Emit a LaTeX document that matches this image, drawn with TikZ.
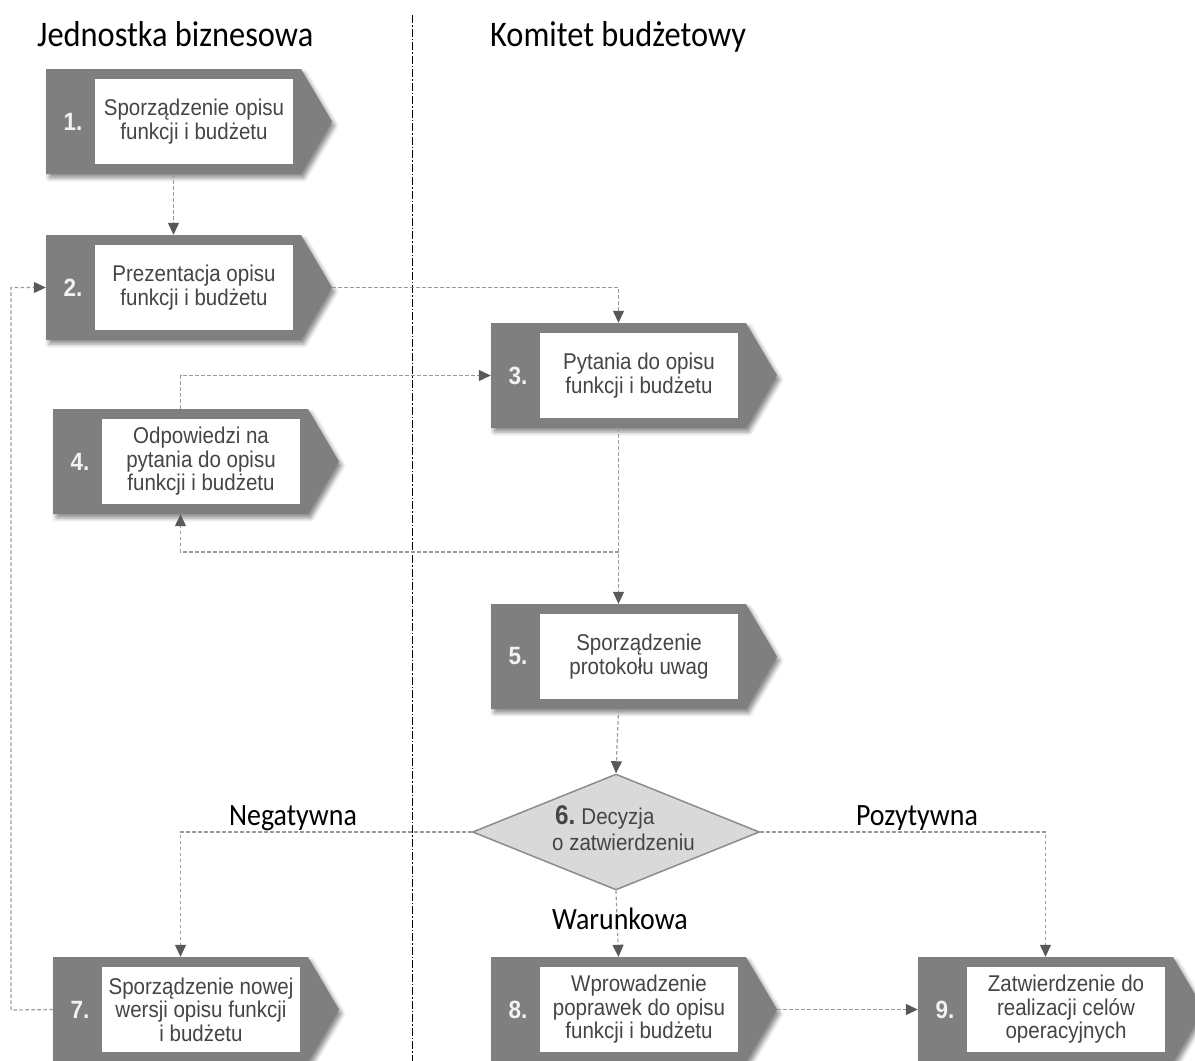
\documentclass[tikz,border=0pt]{standalone}
\usepackage{fontspec}
\usetikzlibrary{arrows.meta,shapes.geometric,shadows.blur}

\newfontfamily\boxfont[FakeStretch=0.9]{Liberation Sans}
\newfontfamily\headfont[FakeStretch=0.9]{Carlito}

\definecolor{stepgray}{HTML}{7F7F7F}
\definecolor{textgray}{HTML}{454545}
\definecolor{numwhite}{HTML}{F2F2F2}
\definecolor{linegray}{HTML}{9A9A9A}
\definecolor{tipgray}{HTML}{595959}
\definecolor{decfill}{HTML}{D9D9D9}
\definecolor{decdraw}{HTML}{8C8C8C}

\tikzset{
  stepshape/.style={fill=stepgray,
    blur shadow={shadow xshift=3pt, shadow yshift=-4pt,
                 shadow blur radius=4pt, shadow opacity=45}},
  stepframe/.style={rectangle, minimum width=255pt, minimum height=105pt,
    inner sep=0pt},
  stepinner/.style={rectangle, fill=white, minimum width=198pt,
    minimum height=85pt, inner sep=0pt, align=center, text=textgray,
    font=\boxfont\fontsize{22.8}{23.5}\selectfont},
  stepnum/.style={text=numwhite, inner sep=0pt,
    font=\boxfont\bfseries\fontsize{25}{26}\selectfont},
  decision/.style={diamond, aspect=2.47, minimum width=287pt,
    minimum height=116pt, inner sep=0pt, fill=decfill, draw=decdraw,
    line width=1.5pt},
  dectext/.style={inner sep=0pt, text=textgray,
    font=\boxfont\fontsize{22.8}{26}\selectfont},
  headtext/.style={inner sep=0pt, text=black,
    font=\headfont\fontsize{36}{40}\selectfont},
  branchlabel/.style={inner sep=0pt, text=black,
    font=\headfont\fontsize{31}{34}\selectfont},
  sepline/.style={draw=black, line width=0.8pt,
    dash pattern=on 8pt off 2pt on 1.5pt off 2pt},
  flowplain/.style={draw=linegray, line width=1.2pt,
    dash pattern=on 3.5pt off 2.5pt},
  flow/.style={flowplain,
    -{Triangle[length=12pt,width=11pt,color=tipgray]}},
}

% process step: name, left x, top y, number, text
\newcommand\procstep[5]{%
  \fill[stepshape] (#2,-#3) -- ++(255,0) -- ++(31,-52.5)
    -- ++(-31,-52.5) -- ++(-255,0) -- cycle;
  \node[stepframe] (#1) at (#2+127.5,-#3-52.5) {};
  \coordinate (#1tip) at (#2+286,-#3-52.5);
  \node[stepinner] (#1txt) at (#2+148,-#3-52.5) {#5};
  \node[stepnum] (#1num) at (#2+27,-#3-52.5) {#4};
}

\begin{document}
\begin{tikzpicture}[x=1pt,y=1pt]
\useasboundingbox (0,0) rectangle (1195,-1061);
\clip (0,0) rectangle (1195,-1061);

% column headers
\node[headtext, anchor=base west] (hdrA) at (37,-46) {Jednostka biznesowa};
\node[headtext, anchor=base west] (hdrB) at (490,-46) {Komitet budżetowy};

% swimlane separator
\coordinate (sepTop) at (412,-15);
\coordinate (sepBot) at (412,-1061);
\draw[sepline] (sepTop) -- (sepBot);

% process steps
\procstep{s1}{46}{69}{1.}{Sporządzenie opisu\\funkcji i budżetu}
\procstep{s2}{46}{235}{2.}{Prezentacja opisu\\funkcji i budżetu}
\procstep{s3}{491}{323}{3.}{Pytania do opisu\\funkcji i budżetu}
\procstep{s4}{53}{409}{4.}{Odpowiedzi na\\pytania do opisu\\funkcji i budżetu}
\procstep{s5}{491}{604}{5.}{Sporządzenie\\protokołu uwag}
\procstep{s7}{53}{957}{7.}{Sporządzenie nowej\\wersji opisu funkcji\\i budżetu}
\procstep{s8}{491}{957}{8.}{Wprowadzenie\\poprawek do opisu\\funkcji i budżetu}
\procstep{s9}{918}{957}{9.}{Zatwierdzenie do\\realizacji celów\\operacyjnych}

% decision
\node[decision] (d6) at (616,-832) {};
\node[dectext, anchor=base west] (d6a) at (555,-824)
  {{\bfseries\fontsize{27}{28}\selectfont 6.}\kern6pt Decyzja};
\node[dectext, anchor=base west] (d6b) at (552,-850) {o zatwierdzeniu};

% connectors
\draw[flow] (s1.south) -- (s2.north);
\draw[flow] (s2tip) -| (s3.north);
\draw[flow] (s4.north) |- (s3.west);
\draw[flow] (s3.south) -- (s5.north);
\coordinate (j35) at (s3.south |- 0,-552);
\draw[flow] (j35) -| (s4.south);
\draw[flow] (s5.south) -- (d6.north);
\draw[flow] (d6.west) -| (s7.north);
\draw[flow] (d6.east) -| (s9.north);
\draw[flow] (d6.south) -- (s8.north);
\draw[flow] (s8tip) -- (s9.west);
\coordinate (loopA) at (11,-1010);
\draw[flow] (s7.west) -- (loopA) |- (s2.west);

% branch labels
\node[branchlabel, anchor=base] (lbN) at (293,-825) {Negatywna};
\node[branchlabel, anchor=base] (lbW) at (620,-929) {Warunkowa};
\node[branchlabel, anchor=base] (lbP) at (917,-825) {Pozytywna};
\end{tikzpicture}
\end{document}
